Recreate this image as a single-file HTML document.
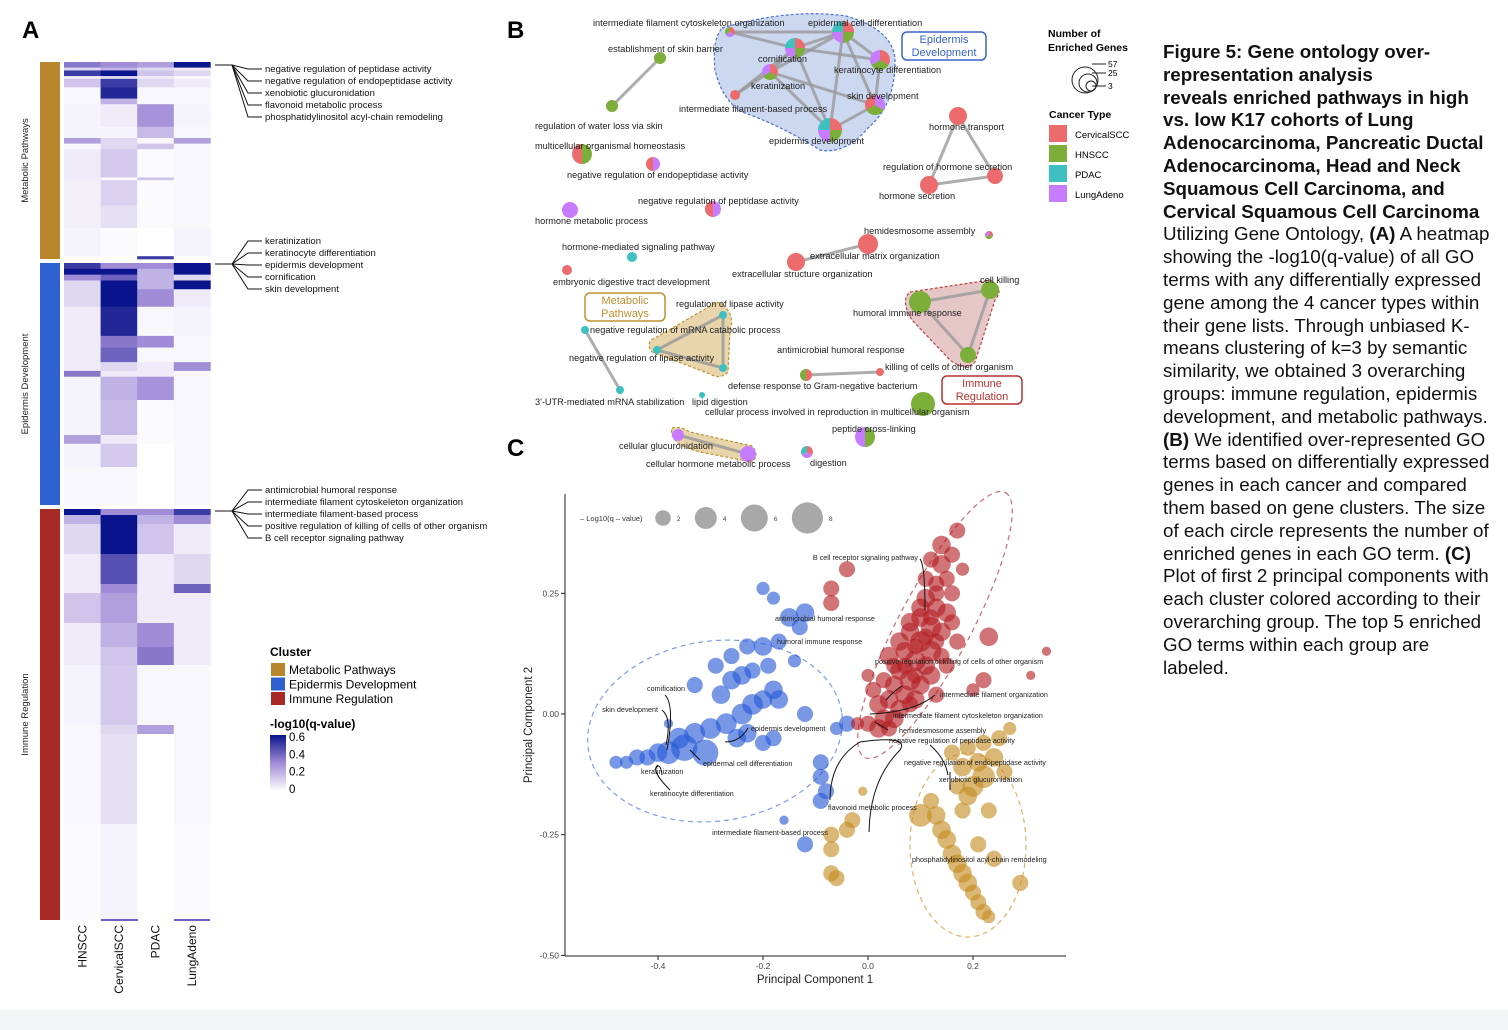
<!DOCTYPE html>
<html><head><meta charset="utf-8"><style>
body{margin:0;width:1508px;height:1030px;background:#fff;overflow:hidden;font-family:"Liberation Sans",Arial,sans-serif;position:relative}
#cap{position:absolute;left:1163px;top:41px;font-size:18.8px;line-height:22.8px;color:#111;white-space:nowrap}
#cap b{font-weight:bold}
svg text{font-family:"Liberation Sans",Arial,sans-serif}
</style></head><body>
<svg id="fig" width="1508" height="1030" style="position:absolute;left:0;top:0">
<rect x="0" y="1010" width="1508" height="20" fill="#f4f5f7"/>
<g id="panelA"></g>
<g id="panelB"></g>
<g id="panelC"></g>
</svg>
<div id="cap">
<b>Figure 5: Gene ontology over-</b><br><b>representation analysis</b><br><b>reveals enriched pathways in high</b><br><b>vs. low K17 cohorts of Lung</b><br><b>Adenocarcinoma, Pancreatic Ductal</b><br><b>Adenocarcinoma, Head and Neck</b><br><b>Squamous Cell Carcinoma, and</b><br><b>Cervical Squamous Cell Carcinoma</b><br>Utilizing Gene Ontology, <b>(A)</b> A heatmap<br>showing the -log10(q-value) of all GO<br>terms with any differentially expressed<br>gene among the 4 cancer types within<br>their gene lists. Through unbiased K-<br>means clustering of k=3 by semantic<br>similarity, we obtained 3 overarching<br>groups: immune regulation, epidermis<br>development, and metabolic pathways.<br><b>(B)</b> We identified over-represented GO<br>terms based on differentially expressed<br>genes in each cancer and compared<br>them based on gene clusters. The size<br>of each circle represents the number of<br>enriched genes in each GO term. <b>(C)</b><br>Plot of first 2 principal components with<br>each cluster colored according to their<br>overarching group. The top 5 enriched<br>GO terms within each group are<br>labeled.
</div>
<script>
// ---------- data: heatmap (bands: rows, HNSCC, CervicalSCC, PDAC, LungAdeno) ----------
const heatColumns = ["HNSCC","CervicalSCC","PDAC","LungAdeno"];
const metabolicBands = [[2,0.35,0.3,0.25,0.6],[1,0.1,0.2,0.1,0.05],[2,0.5,0.6,0.15,0.1],[1,0.05,0.1,0.05,0.02],[3,0.15,0.5,0.1,0.05],[4,0.02,0.55,0.02,0.02],[2,0.02,0.2,0.02,0.02],[8,0.03,0.05,0.28,0.03],[4,0.03,0.03,0.18,0.02],[2,0.25,0.1,0.02,0.25],[2,0.02,0.1,0.15,0.02],[10,0.05,0.14,0.01,0.02],[1,0.05,0.02,0.15,0.02],[9,0.04,0.12,0.01,0.02],[8,0.04,0.08,0.01,0.02],[10,0.03,0.01,0,0.03],[1,0,0,0.5,0]];
const epidermisBands = [[2,0.5,0.3,0.3,0.6],[2,0.6,0.7,0.2,0.7],[2,0.3,0.4,0.2,0.1],[3,0.1,0.7,0.2,0.6],[6,0.1,0.65,0.3,0.05],[10,0.05,0.55,0.02,0.03],[4,0.05,0.35,0.3,0.02],[5,0.05,0.4,0.02,0.02],[3,0.05,0.1,0.05,0.3],[2,0.35,0.05,0.05,0.02],[8,0.03,0.2,0.28,0.02],[12,0.03,0.18,0.01,0.02],[3,0.25,0.05,0.01,0.02],[8,0.03,0.14,0,0.02],[13,0.02,0.02,0,0.02]];
const immuneBands = [[2,0.65,0.3,0.3,0.5],[3,0.2,0.65,0.2,0.3],[10,0.1,0.6,0.15,0.05],[10,0.05,0.45,0.05,0.1],[3,0.05,0.3,0.05,0.4],[10,0.15,0.25,0.05,0.05],[8,0.05,0.2,0.3,0.05],[6,0.05,0.15,0.35,0.05],[20,0.03,0.14,0.02,0.02],[3,0.02,0.1,0.25,0.02],[30,0.02,0.08,0,0.02],[32,0.01,0.03,0,0.01]];
const metabolicTop = ["negative regulation of peptidase activity","negative regulation of endopeptidase activity","xenobiotic glucuronidation","flavonoid metabolic process","phosphatidylinositol acyl-chain remodeling"];
const epidermisTop = ["keratinization","keratinocyte differentiation","epidermis development","cornification","skin development"];
const immuneTop = ["antimicrobial humoral response","intermediate filament cytoskeleton organization","intermediate filament-based process","positive regulation of killing of cells of other organism","B cell receptor signaling pathway"];
// ---------- data: PCA ----------
const xTicks = [-0.4,-0.2,0.0,0.2];
const yTicks = [0.25,0.00,-0.25,-0.50];
const sizeLegend = [2,4,6,8];
const redPoints = [[0.12,0.32,3],[0.14,0.31,4],[0.15,0.28,3],[0.13,0.27,3],[0.11,0.24,4],[0.13,0.22,4],[0.15,0.21,4],[0.10,0.20,4],[0.12,0.18,5],[0.14,0.17,4],[0.08,0.17,4],[0.10,0.15,5],[0.12,0.13,5],[0.07,0.13,4],[0.09,0.11,5],[0.11,0.10,4],[0.06,0.09,4],[0.08,0.07,5],[0.10,0.06,4],[0.05,0.06,4],[0.07,0.04,4],[0.09,0.03,4],[0.04,0.03,4],[0.06,0.01,4],[0.02,0.02,4],[0.03,-0.01,4],[0.05,-0.01,4],[0.00,-0.02,3],[0.02,-0.03,4],[0.01,0.05,3],[0.0,0.08,2],[0.16,0.25,3],[0.17,0.15,3],[0.15,0.10,3],[0.12,0.08,4],[0.13,0.04,3],[-0.07,0.26,3],[-0.07,0.23,3],[-0.04,0.30,3],[0.23,0.16,4],[0.22,0.07,3],[0.2,0.05,2],[0.34,0.13,1],[0.31,0.08,1],[-0.02,-0.02,2],[0.10,0.22,4],[0.08,0.19,4],[0.04,0.12,4],[0.06,0.15,4],[0.14,0.35,4],[0.17,0.38,3],[0.11,0.28,3],[0.13,0.25,3],[0.09,0.14,3],[0.11,0.16,3],[0.07,0.10,3],[0.13,0.15,3],[0.05,0.10,3],[0.03,0.07,3],[0.09,0.08,3],[0.14,0.12,3],[0.12,0.20,3],[0.16,0.19,3],[0.08,0.02,3],[0.04,-0.03,3],[0.18,0.30,2],[0.16,0.33,3]];
const bluePoints = [[-0.48,-0.10,2],[-0.46,-0.10,2],[-0.44,-0.09,3],[-0.42,-0.09,3],[-0.40,-0.08,4],[-0.38,-0.08,6],[-0.35,-0.07,8],[-0.31,-0.08,8],[-0.36,-0.05,5],[-0.33,-0.04,5],[-0.30,-0.03,5],[-0.27,-0.02,5],[-0.25,-0.05,4],[-0.23,-0.04,4],[-0.24,0.00,5],[-0.22,0.02,5],[-0.20,0.03,4],[-0.18,0.05,4],[-0.17,0.03,4],[-0.28,0.04,4],[-0.26,0.07,4],[-0.24,0.08,4],[-0.22,0.09,3],[-0.19,0.10,3],[-0.33,0.06,3],[-0.29,0.10,3],[-0.26,0.12,3],[-0.23,0.14,3],[-0.20,0.14,4],[-0.17,0.15,3],[-0.15,0.20,4],[-0.12,0.21,4],[-0.13,0.18,3],[-0.18,0.24,2],[-0.20,0.26,2],[-0.12,0.00,3],[-0.18,-0.05,3],[-0.20,-0.06,3],[-0.04,-0.02,3],[-0.06,-0.03,2],[-0.09,-0.10,3],[-0.09,-0.13,3],[-0.08,-0.16,3],[-0.09,-0.18,3],[-0.12,-0.27,3],[-0.16,-0.22,1],[-0.38,-0.02,1],[-0.14,0.11,2]];
const goldPoints = [[0.27,-0.03,2],[0.25,-0.05,3],[0.22,-0.06,3],[0.19,-0.07,3],[0.16,-0.08,3],[0.24,-0.09,4],[0.21,-0.10,4],[0.18,-0.11,4],[0.22,-0.13,6],[0.20,-0.15,5],[0.19,-0.17,4],[0.18,-0.20,3],[0.26,-0.12,3],[0.12,-0.18,3],[0.13,-0.21,4],[0.14,-0.24,4],[0.15,-0.26,4],[0.16,-0.29,4],[0.17,-0.31,4],[0.18,-0.33,4],[0.19,-0.35,4],[0.20,-0.37,3],[0.21,-0.39,3],[0.22,-0.41,3],[0.23,-0.42,2],[0.10,-0.21,6],[0.24,-0.30,3],[0.21,-0.27,3],[0.29,-0.35,3],[-0.07,-0.25,3],[-0.07,-0.28,3],[-0.07,-0.33,3],[-0.06,-0.34,3],[-0.03,-0.22,3],[-0.04,-0.24,3],[-0.01,-0.16,1],[0.23,-0.20,3],[0.17,-0.15,3]];

const NS="http://www.w3.org/2000/svg";
function mk(tag,attrs,parent,txt){const e=document.createElementNS(NS,tag);for(const k in attrs)e.setAttribute(k,attrs[k]);if(txt!==undefined)e.textContent=txt;parent.appendChild(e);return e;}

// ---------- Panel A ----------
const A=document.getElementById('panelA');
let tA=mk('text',{x:22,y:38,'font-size':24,'font-weight':'bold'},A,'A');


const colX=c=>64+c*36.6, colW=36.6;
function heatColor(v){const t=Math.min(v/0.6,1);let r,g,b;
 if(t<0.5){const u=t/0.5;r=255+(160-255)*u;g=255+(140-255)*u;b=255+(215-255)*u;}
 else{const u=(t-0.5)/0.5;r=160+(10-160)*u;g=140+(20-140)*u;b=215+(140-215)*u;}
 return `rgb(${r|0},${g|0},${b|0})`;}
function drawBands(bands,y0,y1,color,label,name){
 const total=bands.reduce((s,b)=>s+b[0],0);const h=(y1-y0)/total;let y=y0;
 bands.forEach((b,bi)=>{for(let c=0;c<4;c++){const r=mk('rect',{x:colX(c),y:y,width:colW+0.3,height:b[0]*h+0.3,fill:heatColor(b[c+1])},A);
   
   }
  y+=b[0]*h;});
 const bar=mk('rect',{x:40,y:y0,width:20,height:y1-y0,fill:color},A);
 
 
 const t=mk('text',{x:28,y:(y0+y1)/2,'font-size':9.5,'text-anchor':'middle',fill:'#222',transform:`rotate(-90 28 ${(y0+y1)/2})`},A,label);
 
 }
drawBands(metabolicBands,62,259,'#b8862c','Metabolic Pathways','metabolic');
drawBands(epidermisBands,263,505,'#2e60d0','Epidermis Development','epidermis');
drawBands(immuneBands,509,920,'#a82a24','Immune Regulation','immune');
function annot(list,y0,ystart,name){list.forEach((s,i)=>{const ty=ystart+i*12;
 mk('path',{d:`M215 ${y0} L232 ${y0} L248 ${ty-3} L262 ${ty-3}`,stroke:'#111',fill:'none','stroke-width':1},A);
 const t=mk('text',{x:265,y:ty,'font-size':9.5,fill:'#111'},A,s);
 
 });}
annot(metabolicTop,65,72,'metabolic');annot(epidermisTop,264,244,'epidermis');annot(immuneTop,511,493,'immune');
heatColumns.forEach((c,i)=>{const x=colX(i)+colW/2+4;const t=mk('text',{x:x,y:925,'font-size':12,'text-anchor':'end',fill:'#111',transform:`rotate(-90 ${x} 925)`},A,c);
 
 });
mk('line',{x1:101,y1:920,x2:138,y2:920,stroke:'#6a60c8','stroke-width':2},A);
mk('line',{x1:174,y1:920,x2:210,y2:920,stroke:'#6a60c8','stroke-width':2},A);
let lg=mk('text',{x:270,y:656,'font-size':12,'font-weight':'bold'},A,'Cluster');


[['Metabolic Pathways','#b8862c'],['Epidermis Development','#2e60d0'],['Immune Regulation','#a82a24']].forEach((e,i)=>{
 mk('rect',{x:271,y:663+i*14.5,width:14,height:13,fill:e[1]},A);
 const t=mk('text',{x:289,y:674+i*14.5,'font-size':12},A,e[0]);
 
 });
let lt=mk('text',{x:270,y:728,'font-size':12,'font-weight':'bold'},A,'-log10(q-value)');


const defs=mk('defs',{},A);const lgd=mk('linearGradient',{id:'cb',x1:0,y1:1,x2:0,y2:0},defs);
[0,0.3,0.6].forEach((v,i)=>mk('stop',{offset:i/2,'stop-color':heatColor(v)},lgd));
mk('rect',{x:270,y:735,width:16,height:56,fill:'url(#cb)'},A);
['0.6','0.4','0.2','0'].forEach((s,i)=>{const t=mk('text',{x:289,y:741+i*17.3,'font-size':11.5},A,s);
 
 });

// ---------- Panel B ----------
const B=document.getElementById('panelB');
let tB=mk('text',{x:507,y:38,'font-size':24,'font-weight':'bold'},B,'B');


const CC={r:'#ec6b6c',g:'#7cae3a',t:'#3fc0c0',v:'#c77cff'};
function hull(d,fill,stroke,name){const p=mk('path',{d:d,fill:fill,stroke:stroke,'stroke-width':1.2,'stroke-dasharray':'3 2','stroke-linejoin':'round'},B);
 
 }
hull('M722 28 Q790 8 846 16 Q895 30 895 62 Q895 105 868 128 Q845 155 820 150 Q780 125 742 112 Q722 100 715 70 Q712 40 722 28Z','#ccd8f0','#4a72d0','hull-epidermis');
hull('M910 292 L990 280 Q1005 288 995 300 L975 362 Q965 372 950 360 L912 320 Q900 300 910 292Z','#e6c7c8','#c04040','hull-immune');
hull('M723 305 Q735 315 730 330 L728 372 Q720 380 710 374 L652 352 Q645 342 655 338 L712 305 Q718 300 723 305Z','#e8d5ab','#c09030','hull-metabolic');
hull('M672 428 Q680 426 690 432 L752 446 Q760 455 752 462 L700 452 Q668 444 672 428Z','#e8d5ab','#c09030','hull-glucuronidation');
const edges=[[730,32,795,48],[730,32,843,32],[795,48,843,32],[843,32,880,60],[795,48,880,60],[770,72,795,48],[770,72,843,32],[770,72,875,105],[795,48,830,130],[843,32,830,130],[880,60,875,105],[843,32,875,105],[770,72,830,130],[830,130,875,105],[735,95,770,72],[735,95,795,48],[660,58,612,106],[958,116,929,185],[958,116,995,176],[929,185,995,176],[868,244,796,262],[920,302,990,290],[920,302,968,355],[990,290,968,355],[723,315,657,350],[657,350,723,368],[723,315,723,368],[585,330,620,390],[806,375,880,372],[678,435,748,454]];
edges.forEach(e=>mk('line',{x1:e[0],y1:e[1],x2:e[2],y2:e[3],stroke:'#999','stroke-width':3,opacity:0.8},B));
const nodes=[[730,32,5,'rvg'],[795,48,10,'rgvt'],[843,32,11,'rgvt'],[880,60,10,'rgv'],[770,72,8,'rgv'],[830,130,12,'rgvt'],[875,105,10,'vgr'],[735,95,5,'r'],[660,58,6,'g'],[612,106,6,'g'],[582,154,10,'gr'],[653,164,7,'vr'],[713,209,8,'vr'],[570,210,8,'v'],[632,257,5,'t'],[567,270,5,'r'],[958,116,9,'r'],[929,185,9,'r'],[995,176,8,'r'],[989,235,4,'rgv'],[868,244,10,'r'],[796,262,9,'r'],[920,302,11,'g'],[990,290,9,'g'],[968,355,8,'g'],[806,375,6,'rg'],[880,372,4,'r'],[923,404,12,'g'],[865,437,10,'gv'],[807,452,6,'rvt'],[723,315,4,'t'],[657,350,4,'t'],[723,368,4,'t'],[585,330,4,'t'],[620,390,4,'t'],[678,435,6,'v'],[748,454,8,'v'],[702,395,3,'t']];
nodes.forEach((n,ni)=>{const [cx,cy,r,cs]=n;const k=cs.length;const g=mk('g',{},B);
 
 
 if(k===1){mk('circle',{cx:cx,cy:cy,r:r,fill:CC[cs]},g);}
 else for(let i=0;i<k;i++){const a0=-Math.PI/2+i*2*Math.PI/k,a1=a0+2*Math.PI/k;
  mk('path',{d:`M${cx} ${cy} L${cx+r*Math.cos(a0)} ${cy+r*Math.sin(a0)} A${r} ${r} 0 0 1 ${cx+r*Math.cos(a1)} ${cy+r*Math.sin(a1)}Z`,fill:CC[cs[i]]},g);}});
const netLabels=[[593,26,"intermediate filament cytoskeleton organization"],[808,26,"epidermal cell differentiation"],[608,52,"establishment of skin barrier"],[758,62,"cornification"],[834,73,"keratinocyte differentiation"],[751,89,"keratinization"],[847,99,"skin development"],[679,112,"intermediate filament-based process"],[535,129,"regulation of water loss via skin"],[929,130,"hormone transport"],[769,144,"epidermis development"],[535,149,"multicellular organismal homeostasis"],[883,170,"regulation of hormone secretion"],[567,178,"negative regulation of endopeptidase activity"],[879,199,"hormone secretion"],[638,204,"negative regulation of peptidase activity"],[535,224,"hormone metabolic process"],[864,234,"hemidesmosome assembly"],[562,250,"hormone-mediated signaling pathway"],[810,259,"extracellular matrix organization"],[732,277,"extracellular structure organization"],[553,285,"embryonic digestive tract development"],[980,283,"cell killing"],[676,307,"regulation of lipase activity"],[853,316,"humoral immune response"],[590,333,"negative regulation of mRNA catabolic process"],[777,353,"antimicrobial humoral response"],[569,361,"negative regulation of lipase activity"],[885,370,"killing of cells of other organism"],[728,389,"defense response to Gram-negative bacterium"],[535,405,"3'-UTR-mediated mRNA stabilization"],[692,405,"lipid digestion"],[705,415,"cellular process involved in reproduction in multicellular organism"],[832,432,"peptide cross-linking"],[619,449,"cellular glucuronidation"],[646,467,"cellular hormone metabolic process"],[810,466,"digestion"]];
netLabels.forEach(l=>{const t=mk('text',{x:l[0],y:l[1],'font-size':9.2,fill:'#222'},B,l[2]);
 
 });
function box(x,y,w,col,l1,l2,name){const g=mk('g',{},B);
 
 
 mk('rect',{x:x,y:y,width:w,height:28,rx:5,fill:'#fff',stroke:col,'stroke-width':1.5},g);
 mk('text',{x:x+w/2,y:y+11,'font-size':11,'text-anchor':'middle',fill:col},g,l1);
 mk('text',{x:x+w/2,y:y+24,'font-size':11,'text-anchor':'middle',fill:col},g,l2);}
box(902,32,84,'#3a64c8','Epidermis','Development','box-epidermis');
box(585,293,80,'#c09030','Metabolic','Pathways','box-metabolic');
box(942,376,80,'#b83030','Immune','Regulation','box-immune');
const LB=mk('g',{},B);


mk('text',{x:1048,y:37,'font-size':10.5,'font-weight':'bold'},LB,'Number of');
mk('text',{x:1048,y:51,'font-size':10.5,'font-weight':'bold'},LB,'Enriched Genes');
[[1085,80,13],[1088,83,9],[1091,86,5]].forEach(c=>mk('circle',{cx:c[0],cy:c[1],r:c[2],fill:'none',stroke:'#222','stroke-width':1},LB));
[['57',67],['25',76],['3',89]].forEach(s=>{mk('line',{x1:1092,y1:s[1]-3,x2:1106,y2:s[1]-3,stroke:'#222'},LB);mk('text',{x:1108,y:s[1],'font-size':8.5},LB,s[0]);});
mk('text',{x:1049,y:118,'font-size':10.5,'font-weight':'bold'},LB,'Cancer Type');
[['CervicalSCC','r'],['HNSCC','g'],['PDAC','t'],['LungAdeno','v']].forEach((e,i)=>{mk('rect',{x:1049,y:125+i*20,width:18,height:17,fill:CC[e[1]]},LB);
 const t=mk('text',{x:1075,y:138+i*20,'font-size':9.5},LB,e[0]);
 
 });

// ---------- Panel C ----------
const C=document.getElementById('panelC');
let tC=mk('text',{x:507,y:456,'font-size':24,'font-weight':'bold'},C,'C');


const xS=v=>868+v*525, yS=v=>714-v*482.7, rS=q=>5.8*Math.sqrt(q);
mk('ellipse',{cx:715,cy:731,rx:128,ry:90,transform:'rotate(-8 715 731)',fill:'none',stroke:'#7f9be6','stroke-width':1.2,'stroke-dasharray':'5 4'},C);
mk('ellipse',{cx:935,cy:625,rx:150,ry:36,transform:'rotate(-62 935 625)',fill:'none',stroke:'#d06a70','stroke-width':1.2,'stroke-dasharray':'5 4'},C);
mk('ellipse',{cx:968,cy:845,rx:58,ry:92,fill:'none',stroke:'#ddb26a','stroke-width':1.2,'stroke-dasharray':'5 4'},C);
function pts(arr,col,name){arr.forEach((p,i)=>{const c=mk('circle',{cx:xS(p[0]),cy:yS(p[1]),r:rS(p[2])*0.8,fill:col,'fill-opacity':0.62},C);
 
 });}
pts(bluePoints,'#2559d6','epidermis');pts(redPoints,'#b31f24','immune');pts(goldPoints,'#c48a1e','metabolic');
mk('line',{x1:565,y1:494,x2:565,y2:956,stroke:'#222','stroke-width':1},C);
mk('line',{x1:565,y1:956,x2:1066,y2:956,stroke:'#222','stroke-width':1},C);
xTicks.forEach(v=>{mk('line',{x1:xS(v),y1:956,x2:xS(v),y2:960,stroke:'#222'},C);
 const t=mk('text',{x:xS(v),y:969,'font-size':8.5,'text-anchor':'middle',fill:'#444'},C,v.toFixed(1));
 
 });
yTicks.forEach(v=>{mk('line',{x1:561,y1:yS(v),x2:565,y2:yS(v),stroke:'#222'},C);
 const t=mk('text',{x:559,y:yS(v)+3,'font-size':8.5,'text-anchor':'end',fill:'#444'},C,v.toFixed(2));
 
 });
let xt=mk('text',{x:815,y:983,'font-size':11.5,'text-anchor':'middle',fill:'#222'},C,'Principal Component 1');


let yt=mk('text',{x:532,y:725,'font-size':11.5,'text-anchor':'middle',fill:'#222',transform:'rotate(-90 532 725)'},C,'Principal Component 2');


let sl=mk('text',{x:580,y:521,'font-size':7.5,fill:'#333'},C,'– Log10(q – value)');


let lx=663;sizeLegend.forEach((q,i)=>{const r=rS(q)*0.95;if(i>0)lx+=r+6;mk('circle',{cx:lx,cy:518,r:r,fill:'#999',opacity:0.85},C);
 const t=mk('text',{x:lx+r+6,y:521,'font-size':6.5,fill:'#444'},C,String(q));
 
 lx+=r+18;});
const pcaLabels=[[918,560,'end',"B cell receptor signaling pathway"],[775,621,'start',"antimicrobial humoral response"],[777,644,'start',"humoral immune response"],[875,664,'start',"positive regulation of killing of cells of other organism"],[940,697,'start',"intermediate filament organization"],[893,718,'start',"intermediate filament cytoskeleton organization"],[899,733,'start',"hemidesmosome assembly"],[889,743,'start',"negative regulation of peptidase activity"],[904,765,'start',"negative regulation of endopeptidase activity"],[939,782,'start',"xenobiotic glucuronidation"],[828,810,'start',"flavonoid metabolic process"],[912,862,'start',"phosphatidylinositol acyl-chain remodeling"],[828,835,'end',"intermediate filament-based process"],[685,691,'end',"comification"],[658,712,'end',"skin development"],[751,731,'start',"epidermis development"],[703,766,'start',"epidermal cell differentiation"],[641,774,'start',"keratinization"],[650,796,'start',"keratinocyte differentiation"]];
pcaLabels.forEach(l=>{const t=mk('text',{x:l[0],y:l[1],'font-size':7.2,'text-anchor':l[2],fill:'#222'},C,l[3]);
 
 });
['M920 559 Q925 565 925 610','M902 686 Q895 690 886 700','M935 695 Q915 712 870 714','M888 730 Q880 725 875 722','M930 745 Q945 758 948 775','M950 772 L950 790','M869 832 Q870 780 900 750 Q910 735 860 742 Q830 760 830 800','M665 695 Q675 705 667 750','M662 710 Q672 718 666 745','M748 728 Q740 742 725 742','M700 760 L690 750','M662 775 Q660 760 655 770','M670 790 Q650 770 658 765'].forEach(d=>mk('path',{d:d,fill:'none',stroke:'#111','stroke-width':1},C));
</script>
</body></html>
